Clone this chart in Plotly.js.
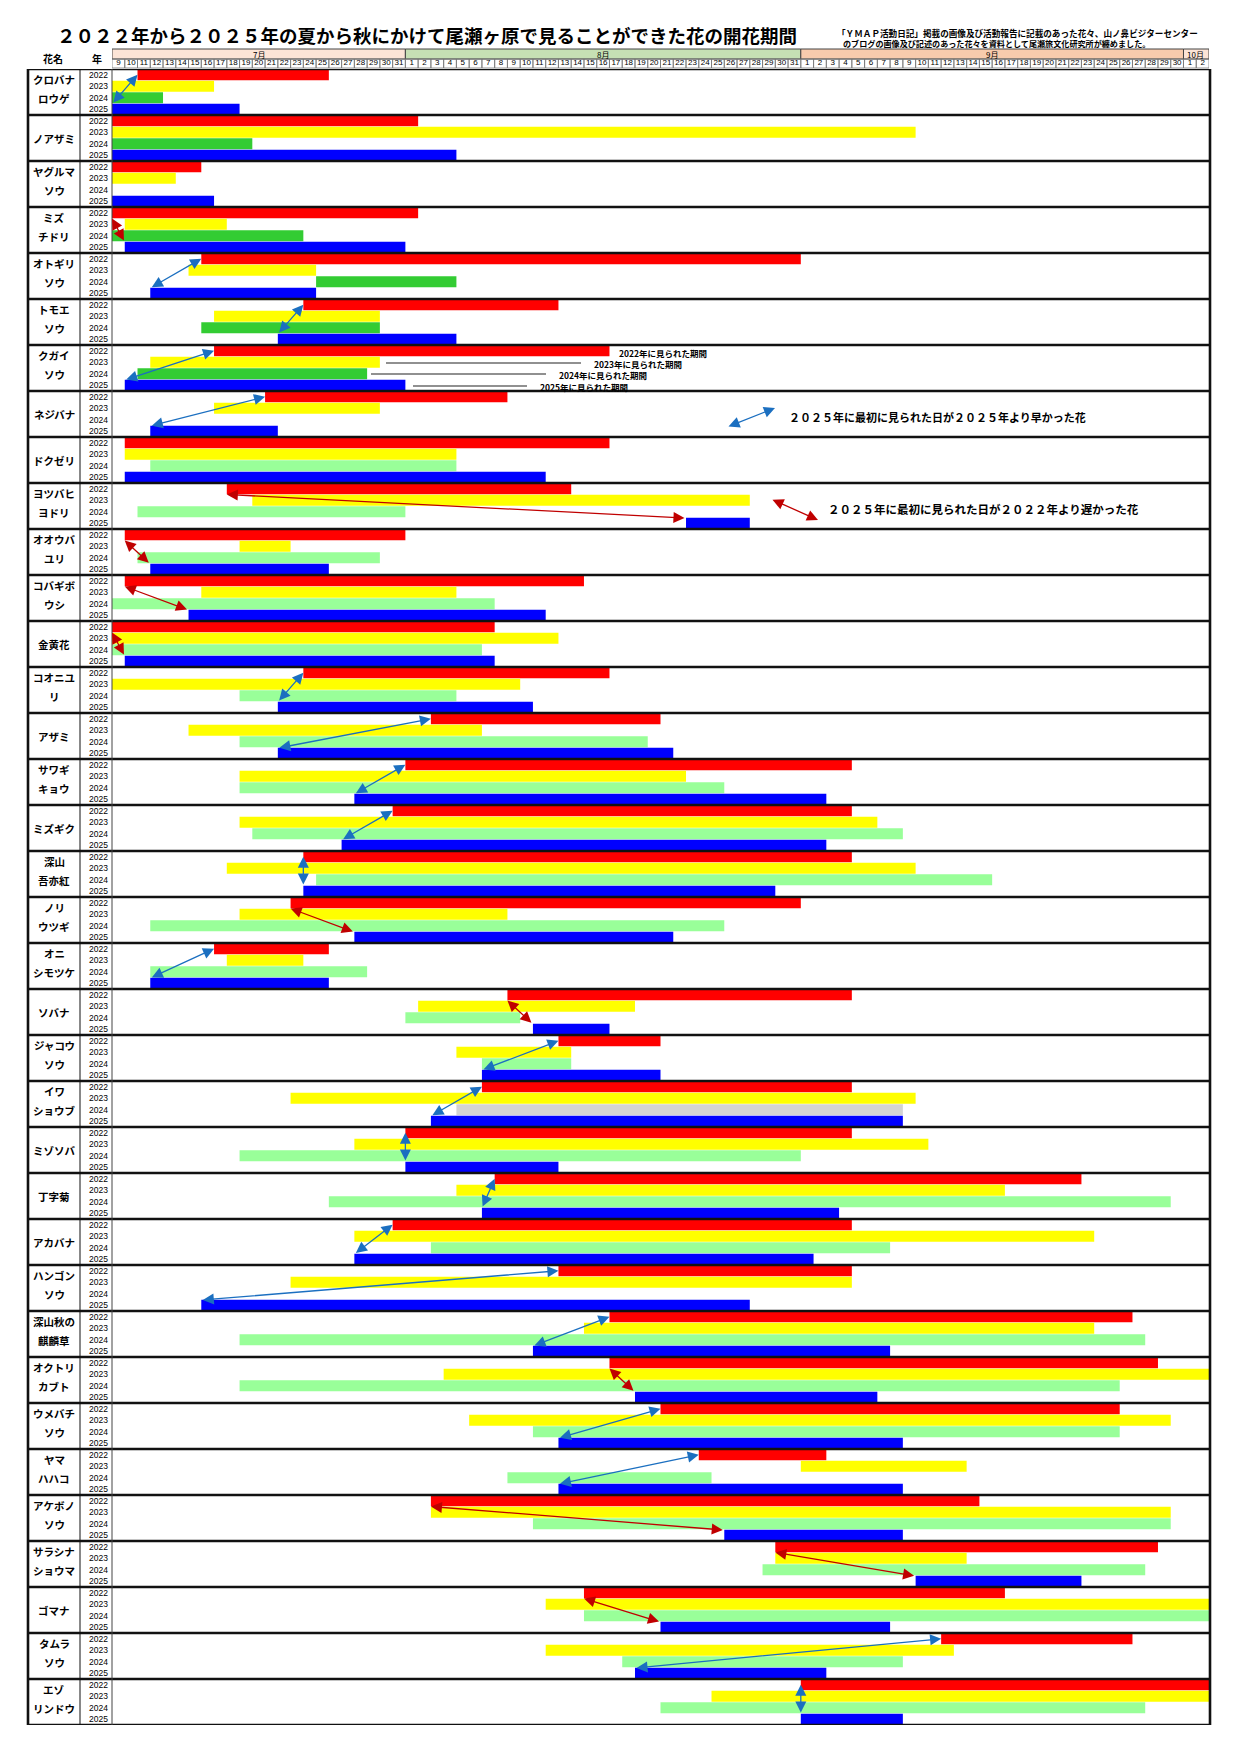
<!DOCTYPE html>
<html><head><meta charset="utf-8">
<script src="https://cdn.plot.ly/plotly-3.0.1.min.js"></script>
<style>html,body{margin:0;padding:0;background:#fff}</style>
</head><body><div id="chart" style="width:1240px;height:1754px"></div>
<script>
// ---------------- DATA ----------------
const flowers = ["クロバナ\nロウゲ","ノアザミ","ヤグルマ\nソウ","ミズ\nチドリ","オトギリ\nソウ","トモエ\nソウ","クガイ\nソウ","ネジバナ","ドクゼリ","ヨツバヒ\nヨドリ","オオウバ\nユリ","コバギボ\nウシ","金黄花","コオニユ\nリ","アザミ","サワギ\nキョウ","ミズギク","深山\n吾亦紅","ノリ\nウツギ","オニ\nシモツケ","ソバナ","ジャコウ\nソウ","イワ\nショウブ","ミゾソバ","丁字菊","アカバナ","ハンゴン\nソウ","深山秋の\n麒麟草","オクトリ\nカブト","ウメバチ\nソウ","ヤマ\nハハコ","アケボノ\nソウ","サラシナ\nショウマ","ゴマナ","タムラ\nソウ","エゾ\nリンドウ"];
const years = ["2022","2023","2024","2025"];
const monthNames = ["7月","8月","9月","10月"];
const monthFirstDay = [9,1,1,1];
const monthLastDay = [31,31,30,2];

const start2022 = ["7/11","7/9","7/9","7/9","7/16","7/24","7/17","7/21","7/10","7/18","7/10","7/10","7/9","7/24","8/3","8/1","7/31","7/24","7/23","7/17","8/9","8/13","8/7","8/1","8/8","7/31","8/13","8/17","8/17","8/21","8/24","8/3","8/30","8/15","9/12","9/1"];
const end2022   = ["7/25","8/1","7/15","8/1","8/31","8/12","8/16","8/8","8/16","8/13","7/31","8/14","8/7","8/16","8/20","9/4","9/4","9/4","8/31","7/25","9/4","8/20","9/4","9/4","9/22","9/4","9/4","9/26","9/28","9/25","9/2","9/14","9/28","9/16","9/26","10/2"];
const start2023 = ["7/9","7/9","7/9","7/10","7/15","7/17","7/12","7/17","7/10","7/20","7/19","7/16","7/9","7/9","7/15","7/19","7/19","7/18","7/19","7/18","8/2","8/5","7/23","7/28","8/5","7/28","7/23","8/15","8/4","8/6","9/1","8/3","8/30","8/12","8/12","8/25"];
const end2023   = ["7/16","9/9","7/13","7/17","7/24","7/29","7/29","7/29","8/4","8/27","7/22","8/4","8/12","8/9","8/6","8/22","9/6","9/9","8/8","7/23","8/18","8/13","9/9","9/10","9/16","9/23","9/4","9/23","10/2","9/29","9/13","9/29","9/13","10/2","9/12","10/2"];
const start2024 = ["7/9","7/9",null,"7/9","7/25","7/16","7/11",null,"7/12","7/11","7/11","7/9","7/9","7/19","7/19","7/19","7/20","7/25","7/12","7/12","8/1","8/7","8/5","7/19","7/26","8/3",null,"7/19","7/19","8/11","8/9","8/11","8/29","8/15","8/18","8/21"];
const end2024   = ["7/12","7/19",null,"7/23","8/4","7/29","7/28",null,"8/4","7/31","7/29","8/7","8/6","8/4","8/19","8/25","9/8","9/15","8/25","7/28","8/9","8/13","9/8","8/31","9/29","9/7",null,"9/27","9/25","9/25","8/24","9/29","9/27","10/2","9/8","9/27"];
const start2025 = ["7/9","7/9","7/9","7/10","7/12","7/22","7/10","7/12","7/10","8/23","7/12","7/15","7/10","7/22","7/22","7/28","7/27","7/24","7/28","7/12","8/11","8/7","8/3","8/1","8/7","7/28","7/16","8/11","8/19","8/13","8/13","8/26","9/10","8/21","8/19","9/1"];
const end2025   = ["7/18","8/4","7/16","7/31","7/24","8/4","7/31","7/21","8/11","8/27","7/25","8/11","8/7","8/10","8/21","9/2","9/2","8/29","8/21","7/25","8/16","8/20","9/8","8/12","9/3","9/1","8/27","9/7","9/6","9/8","9/8","9/8","9/22","9/7","9/2","9/8"];
// b: 2025 first seen earlier than 2022, r: later
const arrowKind = ["b","","","r","b","b","b","b","","r","r","r","r","b","b","b","b","b","r","b","r","b","b","b","b","b","b","b","r","b","b","r","r","r","b","b"];

const titleText = "２０２２年から２０２５年の夏から秋にかけて尾瀬ヶ原で見ることができた花の開花期間";
const noteLines = ["「ＹＭＡＰ活動日記」掲載の画像及び活動報告に記載のあった花々、山ノ鼻ビジターセンター","のブログの画像及び記述のあった花々を資料として尾瀬旅文化研究所が纏めました。"];
const legendBlue = "２０２５年に最初に見られた日が２０２５年より早かった花";
const legendRed  = "２０２５年に最初に見られた日が２０２２年より遅かった花";
const periodLabels = ["2022年に見られた期間","2023年に見られた期間","2024年に見られた期間","2025年に見られた期間"];

// ---------------- HELPERS ----------------
const W = 1240, H = 1754;
const px = v => v / W;
const py = v => 1 - v / H;
const monthStart = [];
let acc = 0;
for (let k = 0; k < monthNames.length; k++) { monthStart.push(acc); acc += monthLastDay[k] - monthFirstDay[k] + 1; }
const totalDays = acc;
function dayIndex(s) {
  const [m, d] = s.split('/').map(Number);
  const k = m - 7;
  return monthStart[k] + d - monthFirstDay[k];
}
const JP = "Noto Sans CJK JP, sans-serif";
const NUM = "Liberation Sans Narrow, Liberation Sans, Arial, sans-serif";

const starts = [start2022, start2023, start2024, start2025];
const ends = [end2022, end2023, end2024, end2025];
const yearColor = ["#ff0000", "#ffff00", null, "#0000ff"];
function color2024(i) {
  if (flowers[i].replace("\n","") === "イワショウブ") return "#d3d3d3";
  return i < 8 ? "#33cc33" : "#99ff99";
}

const traces = [];
for (let k = 0; k < 4; k++) {
  const y = [], base = [], x = [], col = [];
  flowers.forEach((f, i) => {
    if (!starts[k][i]) return;
    const s = dayIndex(starts[k][i]), e = dayIndex(ends[k][i]) + 1;
    y.push(i * 4 + k); base.push(s); x.push(e - s);
    col.push(k === 2 ? color2024(i) : yearColor[k]);
  });
  traces.push({type: 'bar', orientation: 'h', y, x, base, width: 0.96,
    marker: {color: col, line: {width: 0}}, hoverinfo: 'skip', name: years[k]});
}

// ---------------- LAYOUT ----------------
const shapes = [];
const annotations = [];
const monthColors = ["#fce4d6", "#c6e0b4", "#f8cbad", "#fce4d6"];
for (let k = 0; k < monthNames.length; k++) {
  const len = monthLastDay[k] - monthFirstDay[k] + 1;
  shapes.push({type: 'rect', xref: 'x', yref: 'paper', x0: monthStart[k], x1: monthStart[k] + len,
    y0: py(59), y1: py(49), fillcolor: monthColors[k], line: {color: '#444', width: 1}, layer: 'below'});
  annotations.push({xref: 'x', yref: 'paper', x: k === 3 ? monthStart[k] + 0.1 : monthStart[k] + len / 2,
    xanchor: k === 3 ? 'left' : 'center', y: py(54), yanchor: 'middle', text: monthNames[k], showarrow: false,
    font: {family: JP, size: 8, color: '#000'}});
}
const tickvals = [], ticktext = [];
for (let d = 0; d < totalDays; d++) {
  shapes.push({type: 'rect', xref: 'x', yref: 'paper', x0: d, x1: d + 1, y0: py(68), y1: py(59),
    line: {color: '#777', width: 0.8}, layer: 'below'});
}
for (let k = 0; k < monthNames.length; k++) {
  for (let dd = monthFirstDay[k]; dd <= monthLastDay[k]; dd++) {
    tickvals.push(monthStart[k] + dd - monthFirstDay[k] + 0.5);
    ticktext.push(String(dd));
  }
}
const ytv = [], ytt = [];
flowers.forEach((f, i) => years.forEach((yy, k) => { ytv.push(i * 4 + k); ytt.push(yy); }));

const nRows = flowers.length * 4;
for (let i = 0; i <= flowers.length; i++) {
  shapes.push({type: 'line', xref: 'paper', yref: 'y', x0: px(28), x1: px(1210), y0: i * 4 - 0.5, y1: i * 4 - 0.5,
    line: {color: '#111', width: 2.6}});
}
[[28, 2.6, '#111'], [80, 1, '#111'], [112, 1, '#444'], [1210, 2.6, '#111']].forEach(([xx, w, c]) => {
  shapes.push({type: 'line', xref: 'paper', yref: 'y', x0: px(xx), x1: px(xx), y0: -0.5, y1: nRows - 0.5,
    line: {color: c, width: w}});
});

// flower names
const nameFont = {family: JP, size: 10.5, color: '#000'};
flowers.forEach((f, i) => {
  const parts = f.split("\n");
  const ys = parts.length === 1 ? [i * 4 + 1.5] : [i * 4 + 0.45, i * 4 + 2.1];
  parts.forEach((p, j) => {
    annotations.push({xref: 'paper', yref: 'y', x: px(54), xanchor: 'center', y: ys[j], yanchor: 'middle',
      text: '<b>' + p + '</b>', showarrow: false, font: nameFont});
  });
});

// arrows between 2022 and 2025 first days
const BLUE = "#1b6fc0", RED = "#c00000";
flowers.forEach((f, i) => {
  const kind = arrowKind[i];
  if (!kind) return;
  const s22 = dayIndex(start2022[i]), s25 = dayIndex(start2025[i]);
  annotations.push({xref: 'x', yref: 'y', axref: 'x', ayref: 'y',
    x: s22, y: i * 4 + (kind === 'r' ? 0.5 : 0.0), ax: s25, ay: i * 4 + 2.55,
    text: '', showarrow: true, arrowside: 'end+start', arrowhead: 2, startarrowhead: 2,
    arrowsize: 1.7, startarrowsize: 1.7, arrowwidth: 1.3, standoff: 0, startstandoff: 0,
    arrowcolor: kind === 'b' ? BLUE : RED});
});

// title & notes
annotations.push({xref: 'paper', yref: 'paper', x: px(55), y: py(35), xanchor: 'left', yanchor: 'middle',
  text: '<b>' + titleText + '</b>', showarrow: false, font: {family: JP, size: 18.5, color: '#000'}});
annotations.push({xref: 'paper', yref: 'paper', x: px(835), y: py(33), xanchor: 'left', yanchor: 'middle',
  text: '<b>' + noteLines[0] + '</b>', showarrow: false, font: {family: JP, size: 8.6, color: '#000'}});
annotations.push({xref: 'paper', yref: 'paper', x: px(841), y: py(43), xanchor: 'left', yanchor: 'middle',
  text: '<b>' + noteLines[1] + '</b>', showarrow: false, font: {family: JP, size: 8.1, color: '#000'}});
annotations.push({xref: 'paper', yref: 'paper', x: px(53), xanchor: 'center', y: py(58), yanchor: 'middle',
  text: '<b>花名</b>', showarrow: false, font: {family: JP, size: 10, color: '#000'}});
annotations.push({xref: 'paper', yref: 'paper', x: px(97), xanchor: 'center', y: py(58), yanchor: 'middle',
  text: '<b>年</b>', showarrow: false, font: {family: JP, size: 10, color: '#000'}});

// legend arrows / texts
annotations.push({xref: 'paper', yref: 'paper', x: px(775), y: py(408), ax: -48, ay: 19, text: '', showarrow: true,
  arrowside: 'end+start', arrowhead: 2, startarrowhead: 2, arrowsize: 1.7, startarrowsize: 1.7, arrowwidth: 1.3,
  arrowcolor: BLUE});
annotations.push({xref: 'paper', yref: 'paper', x: px(787), y: py(417), xanchor: 'left', yanchor: 'middle',
  text: '<b>' + legendBlue + '</b>', showarrow: false, font: {family: JP, size: 11, color: '#000'}});
annotations.push({xref: 'paper', yref: 'paper', x: px(818), y: py(520), ax: -47, ay: -21, text: '', showarrow: true,
  arrowside: 'end+start', arrowhead: 2, startarrowhead: 2, arrowsize: 1.7, startarrowsize: 1.7, arrowwidth: 1.3,
  arrowcolor: RED});
annotations.push({xref: 'paper', yref: 'paper', x: px(826), y: py(509), xanchor: 'left', yanchor: 'middle',
  text: '<b>' + legendRed + '</b>', showarrow: false, font: {family: JP, size: 11.5, color: '#000'}});

// period labels next to クガイソウ bars
const periodPos = [[617, 353, null, null], [592, 364, 386, 581], [557, 375, 371, 546], [538, 387, 413, 527]];
periodPos.forEach(([tx, ty, l0, l1], k) => {
  annotations.push({xref: 'paper', yref: 'paper', x: px(tx), y: py(ty), xanchor: 'left', yanchor: 'middle',
    text: '<b>' + periodLabels[k] + '</b>', showarrow: false, font: {family: JP, size: 8.5, color: '#000'}});
  if (l0 !== null) shapes.push({type: 'line', xref: 'paper', yref: 'paper', x0: px(l0), x1: px(l1),
    y0: py(ty - 1), y1: py(ty - 1), line: {color: '#222', width: 1.2}});
});

const layout = {
  width: W, height: H, margin: {l: 0, r: 0, t: 0, b: 0},
  paper_bgcolor: '#fff', plot_bgcolor: '#fff', showlegend: false, barmode: 'overlay',
  xaxis: {domain: [px(112), px(1209)], range: [0, totalDays], side: 'top', showgrid: false, zeroline: false,
    showline: false, ticks: '', tickvals, ticktext, tickangle: 0,
    tickfont: {family: NUM, size: 8, color: '#000'}, automargin: false, fixedrange: true, ticklabelstandoff: 1},
  yaxis: {domain: [py(1725), py(69)], range: [nRows - 0.5, -0.5], showgrid: false, zeroline: false,
    showline: false, ticks: '', tickvals: ytv, ticktext: ytt, tickfont: {family: NUM, size: 8.5, color: '#000'},
    automargin: false, fixedrange: true, ticklabelstandoff: 3},
  shapes, annotations
};
Plotly.newPlot('chart', traces, layout, {staticPlot: true, displayModeBar: false});
</script></body></html>
